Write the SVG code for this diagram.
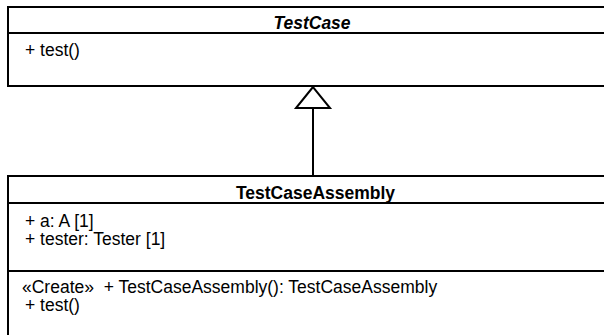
<svg xmlns="http://www.w3.org/2000/svg" width="604" height="335" viewBox="0 0 604 335">
<style>
.box{fill:#fff;stroke:#000;stroke-width:2}
.div{stroke:#000;stroke-width:2}
.t{font-family:"Liberation Sans",Arial,sans-serif;font-size:17.5px;fill:#000}
.h{font-weight:bold;text-anchor:middle}
.i{font-style:italic}
.conn{stroke:#000;stroke-width:2;fill:none}
.tri{fill:#fff;stroke:#000;stroke-width:2}
</style>
<g id="TestCase">
<rect class="box" x="8" y="7" width="620" height="79"/>
<line class="div" x1="8" y1="33" x2="604" y2="33"/>
<text class="t h i" x="312" y="29">TestCase</text>
<text class="t" x="25" y="56">+ test()</text>
</g>
<g id="TestCaseAssembly">
<rect class="box" x="8" y="176" width="620" height="200"/>
<line class="div" x1="8" y1="203" x2="604" y2="203"/>
<line class="div" x1="8" y1="271" x2="604" y2="271"/>
<text class="t h" x="315.5" y="199">TestCaseAssembly</text>
<text class="t" x="25" y="227">+ a: A [1]</text>
<text class="t" x="25" y="245">+ tester: Tester [1]</text>
<text class="t" x="22" y="293" xml:space="preserve">«Create»  + TestCaseAssembly(): TestCaseAssembly</text>
<text class="t" x="25" y="311">+ test()</text>
</g>
<g id="connectors">
<line class="conn" x1="313" y1="108" x2="313" y2="176"/>
<polygon class="tri" points="313,87 296,108 330,108"/>
</g>
</svg>
